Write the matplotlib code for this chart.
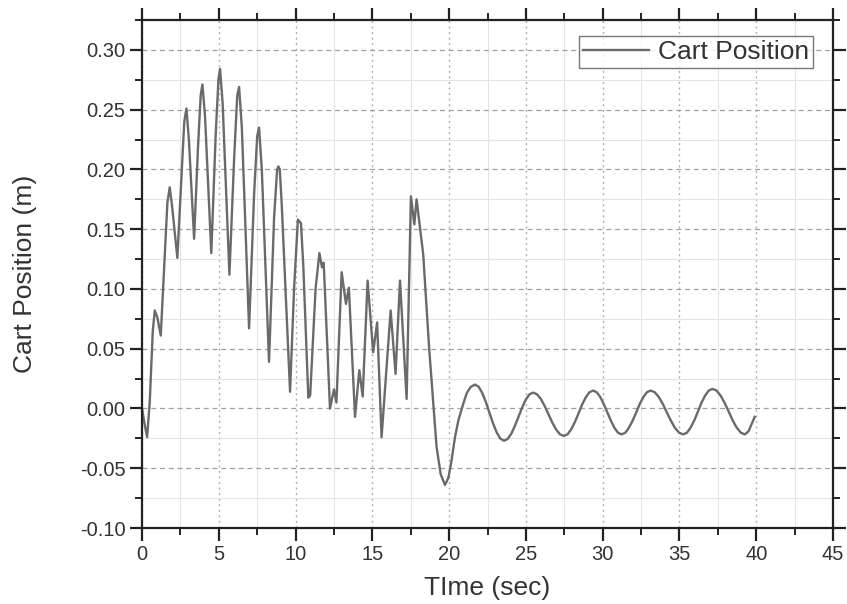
import matplotlib
matplotlib.use("Agg")
import matplotlib.pyplot as plt
from matplotlib.ticker import MultipleLocator, FormatStrFormatter

# cart position (time in s, position in m)
t = [0.0, 0.15, 0.33, 0.5, 0.7, 0.83, 1.0, 1.22, 1.45, 1.65, 1.80, 1.95,
     2.30, 2.55, 2.75, 2.89, 3.05, 3.39, 3.65, 3.82, 3.93, 4.1, 4.51, 4.8,
     4.98, 5.08, 5.25, 5.69, 6.0, 6.2, 6.32, 6.5, 6.97, 7.3, 7.5, 7.62, 7.8,
     8.27, 8.6, 8.8, 8.88, 8.97, 9.1, 9.64, 9.9, 10.15, 10.35, 10.5, 10.83,
     10.95, 11.3, 11.55, 11.72, 11.83, 12.24, 12.5, 12.66, 13.0, 13.28, 13.47,
     13.87, 14.15, 14.37, 14.69, 15.05, 15.31, 15.6, 16.19, 16.51, 16.8,
     17.23, 17.51, 17.73, 17.88, 18.31, 18.7, 19.18, 19.45, 19.73, 19.95,
     20.15, 20.38, 20.6, 20.92, 21.15, 21.4, 21.68,
     21.92, 22.15, 22.39, 22.62, 22.86, 23.10, 23.33, 23.57,
     23.81, 24.05, 24.28, 24.52, 24.76, 24.99, 25.23, 25.47,
     25.72, 25.97, 26.22, 26.47, 26.72, 26.97, 27.22, 27.47,
     27.71, 27.95, 28.19, 28.43, 28.66, 28.90, 29.14, 29.38,
     29.61, 29.84, 30.07, 30.31, 30.54, 30.77, 31.00, 31.23,
     31.47, 31.70, 31.94, 32.18, 32.41, 32.65, 32.88, 33.12,
     33.39, 33.65, 33.92, 34.18, 34.45, 34.71, 34.98, 35.24,
     35.48, 35.72, 35.96, 36.20, 36.43, 36.67, 36.91, 37.15,
     37.41, 37.68, 37.94, 38.21, 38.47, 38.73, 39.00, 39.26,
     39.5, 39.7, 39.9]
pos = [0.000, -0.012, -0.024, 0.005, 0.065, 0.082, 0.076, 0.061, 0.12, 0.172,
       0.185, 0.17, 0.126, 0.19, 0.24, 0.251, 0.225, 0.142, 0.22, 0.262,
       0.271, 0.245, 0.130, 0.23, 0.276, 0.284, 0.255, 0.112, 0.21, 0.262,
       0.269, 0.235, 0.067, 0.18, 0.228, 0.235, 0.2, 0.039, 0.16, 0.2,
       0.2025, 0.2, 0.17, 0.014, 0.1, 0.158, 0.155, 0.12, 0.009, 0.011, 0.1,
       0.130, 0.118, 0.122, 0.0, 0.016, 0.005, 0.114, 0.0875, 0.101, -0.007,
       0.032, 0.010, 0.107, 0.047, 0.072, -0.024, 0.082, 0.029, 0.107, 0.008,
       0.1775, 0.154, 0.175, 0.129, 0.05, -0.032, -0.055, -0.064, -0.058,
       -0.044, -0.024, -0.010, 0.004, 0.013, 0.018, 0.020,
       0.0182, 0.0131, 0.0055, -0.0035, -0.0125, -0.0201, -0.0252, -0.027,
       -0.0255, -0.0211, -0.0146, -0.0069, 0.0009, 0.0074, 0.0118, 0.0133,
       0.0119, 0.0080, 0.0021, -0.0049, -0.0118, -0.0177, -0.0216, -0.023,
       -0.0216, -0.0174, -0.0113, -0.004, 0.0033, 0.0094, 0.0136, 0.015,
       0.0136, 0.0096, 0.0037, -0.0034, -0.0104, -0.0163, -0.0203, -0.0217,
       -0.0203, -0.0163, -0.0104, -0.0034, 0.0037, 0.0096, 0.0136, 0.015,
       0.0136, 0.0096, 0.0037, -0.0034, -0.0104, -0.0163, -0.0203, -0.0217,
       -0.0203, -0.0161, -0.0101, -0.0027, 0.0047, 0.0108, 0.0150, 0.0164,
       0.0150, 0.0108, 0.0047, -0.0027, -0.0101, -0.0161, -0.0203, -0.0217,
       -0.019, -0.013, -0.007]

plt.rcParams['font.family'] = ['Liberation Sans', 'DejaVu Sans']

fig = plt.figure(figsize=(8.47, 6.04), dpi=100)
ax = fig.add_axes([0.1677, 0.1258, 0.8158, 0.8411])

ax.plot(t, pos, color='#6a6a6a', lw=1.7, label='Cart Position')

ax.set_xlim(0, 45)
ax.set_ylim(-0.10, 0.325)
ax.xaxis.set_major_locator(MultipleLocator(5))
ax.xaxis.set_minor_locator(MultipleLocator(2.5))
ax.yaxis.set_major_locator(MultipleLocator(0.05))
ax.yaxis.set_minor_locator(MultipleLocator(0.025))
ax.yaxis.set_major_formatter(FormatStrFormatter('%.2f'))

# grid: dotted verticals, dashed horizontals, faint minor lines
ax.grid(axis='x', which='major', color='#b0b0b0', ls=(0, (1.5, 2.5)), lw=1.0)
ax.grid(axis='y', which='major', color='#a0a0a0', ls=(0, (4, 3)), lw=0.9)
ax.grid(which='minor', color='#e4e4e4', ls='-', lw=0.8)
ax.set_axisbelow(True)

for s in ax.spines.values():
    s.set_linewidth(1.6)
    s.set_color('#222222')
ax.tick_params(which='both', direction='out', top=True, right=True,
               labeltop=False, labelright=False, color='#222222')
ax.tick_params(which='major', length=9, width=1.6, labelsize=14.5, pad=3,
               labelcolor='#333333')
ax.tick_params(which='minor', length=5, width=1.4)

ax.set_xlabel('TIme (sec)', fontsize=19, color='#333333')
ax.set_ylabel('Cart Position (m)', fontsize=19, color='#333333')
ax.xaxis.set_label_coords(0.5, -0.094)
ax.yaxis.set_label_coords(-0.152, 0.5)

leg = ax.legend(loc='upper right', fontsize=19, frameon=True, fancybox=False,
                handlelength=2.5, borderpad=0.15, handletextpad=0.35,
                borderaxespad=0, bbox_to_anchor=(0.971, 0.9685))
leg.get_frame().set_edgecolor('#555555')
leg.get_frame().set_linewidth(1.0)
for txt in leg.get_texts():
    txt.set_color('#333333')

fig.savefig('out.png', dpi=100)
